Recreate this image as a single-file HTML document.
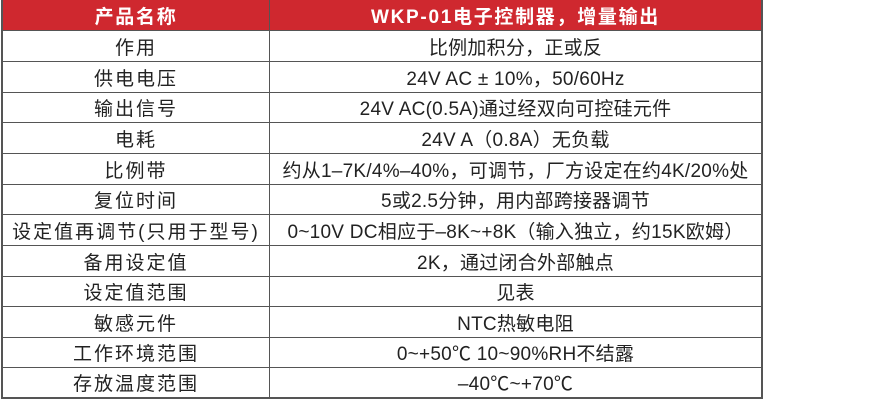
<!DOCTYPE html>
<html><head><meta charset="utf-8"><style>
body{margin:0;width:894px;height:418px;background:#fff;position:relative;overflow:hidden;font-family:"Liberation Sans","Noto Sans CJK SC",sans-serif;}
.t{position:absolute;left:1px;top:0;width:762px;height:399px;border-left:2px solid #555;border-right:2px solid #555;border-bottom:2px solid #555;box-sizing:border-box;}
.r{position:absolute;left:0;width:758px;display:flex;border-bottom:1.5px solid #555;box-sizing:border-box;}
.c1{width:267px;border-right:1.5px solid #555;box-sizing:border-box;text-align:center;letter-spacing:2px;}
.c2{flex:1;text-align:center;letter-spacing:0.25px;}
.r div{font-size:19px;color:#222;display:flex;align-items:center;justify-content:center;white-space:nowrap;}
.h{background:#cf282f;}
.h div{color:#fff;font-weight:bold;font-size:19px;letter-spacing:1.7px}
</style></head><body>
<div class="t">
<div class="r h" style="top:0;height:31px"><div class="c1">产品名称</div><div class="c2">WKP-01电子控制器，增量输出</div></div>
<div class="r" style="top:31px;height:31px"><div class="c1">作用</div><div class="c2">比例加积分，正或反</div></div>
<div class="r" style="top:62px;height:31px"><div class="c1">供电电压</div><div class="c2">24V AC ± 10%，50/60Hz</div></div>
<div class="r" style="top:93px;height:30px"><div class="c1">输出信号</div><div class="c2">24V AC(0.5A)通过经双向可控硅元件</div></div>
<div class="r" style="top:123px;height:31px"><div class="c1">电耗</div><div class="c2">24V A（0.8A）无负载</div></div>
<div class="r" style="top:154px;height:31px"><div class="c1">比例带</div><div class="c2">约从1–7K/4%–40%，可调节，厂方设定在约4K/20%处</div></div>
<div class="r" style="top:185px;height:30px"><div class="c1">复位时间</div><div class="c2">5或2.5分钟，用内部跨接器调节</div></div>
<div class="r" style="top:215px;height:31px"><div class="c1">设定值再调节(只用于型号)</div><div class="c2">0~10V DC相应于–8K~+8K（输入独立，约15K欧姆）</div></div>
<div class="r" style="top:246px;height:31px"><div class="c1">备用设定值</div><div class="c2">2K，通过闭合外部触点</div></div>
<div class="r" style="top:277px;height:30px"><div class="c1">设定值范围</div><div class="c2">见表</div></div>
<div class="r" style="top:307px;height:31px"><div class="c1">敏感元件</div><div class="c2">NTC热敏电阻</div></div>
<div class="r" style="top:338px;height:30px"><div class="c1">工作环境范围</div><div class="c2">0~+50℃ 10~90%RH不结露</div></div>
<div class="r" style="top:368px;height:29px;border-bottom:none"><div class="c1">存放温度范围</div><div class="c2">–40℃~+70℃</div></div>
</div>
</body></html>
